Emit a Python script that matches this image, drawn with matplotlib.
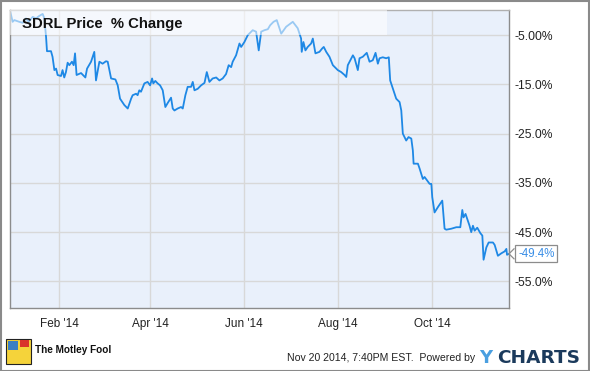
import numpy as np
import matplotlib
matplotlib.use("Agg")
import matplotlib.pyplot as plt
import matplotlib.dates as mdates
from matplotlib.patches import Rectangle
from matplotlib.lines import Line2D

plt.rcParams['font.family'] = ['Liberation Sans', 'DejaVu Sans']

# days since 2014-01-01 and SDRL price % change
days = [-1.0, 0.7, 1.8, 5.0, 7.2, 9.4, 11.1, 13.7, 15.9, 18.0, 20.2, 21.3, 22.4, 23.0,
        25.6, 26.6, 27.8, 28.9, 29.9, 32.1, 33.1, 34.2, 35.3, 36.4, 37.5, 39.2, 40.3,
        41.2, 42.2, 45.1, 47.9, 49.0, 51.6, 53.7, 54.8, 57.0, 59.1, 61.3, 62.4, 64.6,
        67.4, 68.9, 70.4, 73.2, 75.4, 77.6, 78.6, 80.8, 81.8, 82.9, 84.0, 86.2, 88.3,
        89.9, 91.2, 92.0, 93.3, 94.8, 96.4, 98.1, 99.8, 101.3, 103.5, 104.6, 105.7,
        107.8, 110.0, 111.1, 112.8, 114.3, 116.5, 117.6, 118.7, 120.8, 123.0, 125.2,
        126.7, 128.4, 130.5, 132.8, 134.9, 137.0, 139.2, 140.9, 142.5, 143.5, 145.7,
        147.9, 149.0, 151.1, 153.3, 156.5, 158.7, 160.4, 162.0, 164.1, 166.3, 167.8,
        170.0, 172.1, 175.0, 178.2, 182.5, 185.7, 187.9, 188.3, 189.4, 190.7, 192.2,
        194.4, 195.5, 197.2, 199.8, 201.6, 202.6, 204.2, 206.3, 208.5, 211.7, 213.9,
        216.1, 217.2, 218.2, 221.5, 222.6, 224.7, 225.8, 227.9, 230.5, 232.3, 234.4,
        236.2, 237.7, 238.8, 240.9, 243.1, 244.8, 245.7, 247.4, 249.6, 251.8, 252.9,
        253.9, 256.1, 257.6, 259.4, 260.4, 260.9, 263.7, 264.8, 266.9, 268.0, 271.3,
        272.4, 273.0, 274.5, 276.7, 279.5, 281.0, 282.1, 285.4, 288.6, 291.2, 292.5,
        293.3, 294.6, 297.2, 298.3, 299.4, 300.5, 302.2, 304.2, 305.5, 306.3, 308.1,
        309.6, 312.4, 313.5, 315.6, 317.8, 320.0, 321.1, 321.5, 322.8]
pct = [0.0, -2.3, -1.95, -2.3, -2.5, -1.6, -2.3, -1.3, -1.6, -1.1, -0.7, -1.6, -5.35, -8.26,
       -8.26, -9.4, -12.1, -11.8, -13.1, -13.3, -12.1, -13.6, -12.5, -10.6, -11.1, -10.4, -11.1,
       -8.7, -13.1, -12.7, -13.6, -11.8, -10.4, -8.4, -14.2, -10.4, -10.8, -10.3, -10.4, -13.8,
       -14.0, -15.2, -17.9, -19.2, -19.9, -17.9, -17.2, -16.9, -17.2, -16.2, -16.5, -14.8, -14.5,
       -15.2, -13.8, -14.8, -14.3, -14.8, -15.2, -16.2, -19.6, -18.8, -17.7, -19.9, -20.3,
       -19.9, -19.6, -19.9, -17.2, -15.5, -15.5, -14.5, -16.2, -15.9, -15.2, -14.7,
       -12.5, -14.5, -13.8, -13.6, -14.2, -13.8, -12.9, -11.1, -11.5, -10.4, -9.1,
       -6.7, -7.4, -6.4, -5.0, -4.0, -4.3, -8.1, -4.3, -4.0, -3.8, -3.0,
       -2.3, -1.95, -4.7, -3.3, -2.3, -3.6, -5.7, -8.4, -6.4, -8.1, -7.4,
       -6.7, -5.7, -8.7, -8.4, -7.7, -7.4, -8.4, -9.4, -11.1, -12.1, -12.5,
       -13.1, -13.5, -11.1, -9.1, -9.7, -12.1, -9.7, -9.4, -8.6, -10.4, -10.1,
       -8.6, -10.8, -9.7, -9.5, -9.7, -9.5, -14.2, -15.8, -17.9, -18.6, -20.3,
       -25.0, -26.4, -25.7, -26.0, -28.4, -31.1, -31.1, -32.1, -34.2, -33.8, -35.2,
       -35.2, -37.9, -41.0, -39.9, -38.6, -44.3, -44.5, -44.3, -44.0, -44.0, -40.5,
       -42.0, -41.3, -43.7, -45.0, -43.7, -44.7, -44.1, -45.2, -45.7, -50.6, -48.1,
       -47.1, -47.1, -47.6, -49.8, -49.3, -48.9, -48.4, -49.6, -49.4]

yticks = [-5, -15, -25, -35, -45, -55]
ylabels = ["-5.00%", "-15.0%", "-25.0%", "-35.0%", "-45.0%", "-55.0%"]
last_label = "-49.4%"

base = mdates.date2num(np.datetime64('2014-01-01'))
x = base + np.array(days)

W, H = 590, 371
fig = plt.figure(figsize=(W / 100, H / 100), dpi=100)
ax = fig.add_axes([10 / W, (H - 308) / H, 499 / W, 298 / H])
ax.set_facecolor('#e9f0fb')

ax.plot(x, pct, color='#1e88e5', lw=1.3, zorder=2)

ax.set_xlim(base - 1.0, base + 322.8)
ax.set_ylim(-60.4, 0.1)

ax.xaxis.set_major_locator(mdates.MonthLocator(bymonth=[2, 4, 6, 8, 10]))
ax.xaxis.set_major_formatter(mdates.DateFormatter("%b '%y"))
ax.yaxis.tick_right()
ax.set_yticks(yticks)
ax.set_yticklabels(ylabels)
ax.tick_params(axis='y', length=0, pad=4, labelsize=8.7, labelcolor='#222222')
ax.tick_params(axis='x', length=0, pad=7, labelsize=8.5, labelcolor='#222222')
ax.grid(True, color='#d8d8d8', lw=1.0, zorder=1)
ax.set_axisbelow(True)
for s in ['left', 'right', 'bottom', 'top']:
    ax.spines[s].set_color('#8c8c8c')
    ax.spines[s].set_linewidth(1.0)
ax.spines['top'].set_color('#b0b0b0')

# title box over the top strip
ax.add_patch(Rectangle((0, (308 - 35) / 298), (387 - 10) / 499, 25 / 298,
                       transform=ax.transAxes, facecolor='white', alpha=0.55,
                       edgecolor='none', zorder=3))
fig.text(22 / W, 1 - 24 / H, "SDRL Price  % Change", fontsize=10.7,
         fontweight='bold', color='#111111', va='center', ha='left')

# last value callout
fig.canvas.draw()
tx, ty = ax.get_yaxis_transform().transform((1, pct[-1]))
ax.annotate(last_label, xy=(1, pct[-1]), xycoords=ax.get_yaxis_transform(),
            xytext=(6.5, 0), textcoords='offset points', va='center', ha='left',
            fontsize=8.3, color='#3a8ee6', annotation_clip=False,
            bbox=dict(boxstyle='square,pad=0.22', fc='white', ec='#8c8c8c', lw=0.9))
fig.add_artist(Line2D([tx + 5, tx, tx + 5], [ty + 5, ty, ty - 5],
                      transform=None, color='#8c8c8c', lw=0.9))

# footer
fig.text(475 / W, 1 - 358 / H, "Nov 20 2014, 7:40PM EST.  Powered by",
         fontsize=7.6, color='#222222', va='center', ha='right')
fig.text(479 / W, 1 - 358 / H, "Y", fontsize=13, fontweight='bold',
         color='#4a9fe0', va='center', ha='left', family='DejaVu Sans')
fig.text(497 / W, 1 - 358 / H, "CHARTS", fontsize=13.3, fontweight='bold',
         color='#1b3a5c', va='center', ha='left', family='DejaVu Sans')

fig.add_artist(Rectangle((6 / W, 1 - 364 / H), 25 / W, 25 / H, transform=fig.transFigure,
                         facecolor='#f5d33a', edgecolor='#222222', lw=0.8))
fig.add_artist(Rectangle((8 / W, 1 - 350 / H), 10 / W, 9 / H, transform=fig.transFigure,
                         facecolor='#3b7fc4', edgecolor='none'))
fig.add_artist(Rectangle((20 / W, 1 - 347 / H), 9 / W, 7 / H, transform=fig.transFigure,
                         facecolor='#d9342b', edgecolor='none'))
fig.text(35 / W, 1 - 350 / H, "The Motley Fool", fontsize=7.2, fontweight='bold',
         color='#111111', va='center', ha='left')

# outer frame
fig.add_artist(Rectangle((0.5 / W, 0.5 / H), (W - 1.5) / W, (H - 1.5) / H,
                         transform=fig.transFigure, facecolor='none',
                         edgecolor='#8a8a8a', lw=1.5))

fig.savefig('out.png', dpi=100)
